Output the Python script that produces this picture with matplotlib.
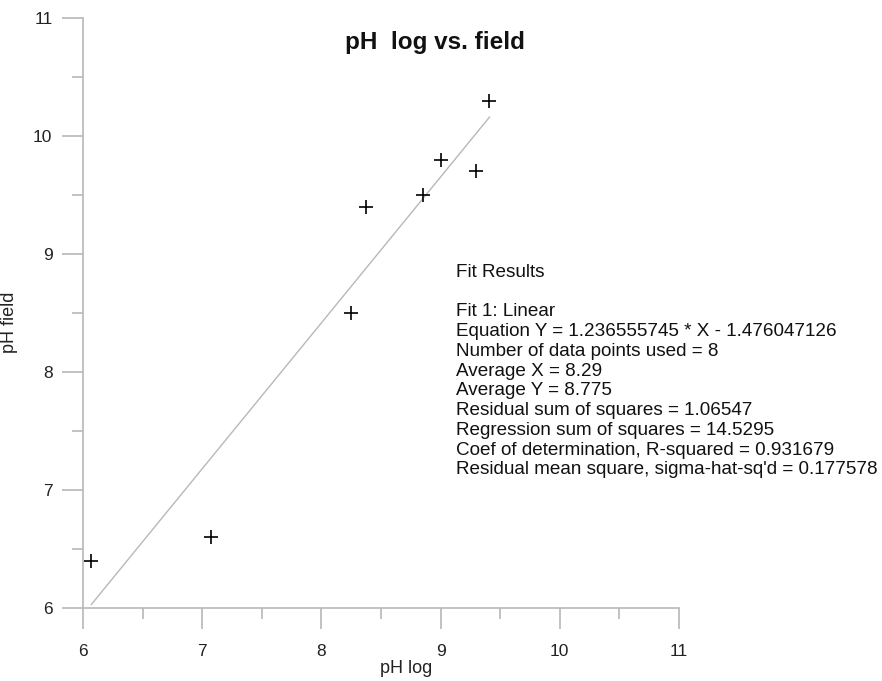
import matplotlib
matplotlib.use("Agg")
import matplotlib.pyplot as plt
import numpy as np
from matplotlib.ticker import MultipleLocator

plt.rcParams["font.family"] = ["Liberation Sans", "DejaVu Sans"]

# pH measured in the log vs. pH measured in the field
ph_log = [6.07, 7.07, 8.25, 8.37, 8.85, 9.00, 9.30, 9.41]
ph_field = [6.40, 6.60, 8.50, 9.40, 9.50, 9.80, 9.70, 10.30]

slope = 1.236555745
intercept = -1.476047126

fit_lines = [
    "Fit Results",
    "",
    "Fit 1: Linear",
    "Equation Y = 1.236555745 * X - 1.476047126",
    "Number of data points used = 8",
    "Average X = 8.29",
    "Average Y = 8.775",
    "Residual sum of squares = 1.06547",
    "Regression sum of squares = 14.5295",
    "Coef of determination, R-squared = 0.931679",
    "Residual mean square, sigma-hat-sq'd = 0.177578",
]

axis_grey = "#b8b8b8"

fig = plt.figure(figsize=(8.82, 6.81), dpi=100)
ax = fig.add_axes([83 / 882, 73 / 681, 596 / 882, 590 / 681])

x_fit = np.array([min(ph_log), max(ph_log)])
ax.plot(x_fit, slope * x_fit + intercept, color=axis_grey, linewidth=1.0)
ax.plot(ph_log, ph_field, linestyle="none", marker="+", markersize=10,
        markeredgewidth=1.2, color="black")

ax.set_xlim(6, 11)
ax.set_ylim(6, 11)
ax.xaxis.set_major_locator(MultipleLocator(1))
ax.xaxis.set_minor_locator(MultipleLocator(0.5))
ax.yaxis.set_major_locator(MultipleLocator(1))
ax.yaxis.set_minor_locator(MultipleLocator(0.5))

for side in ("top", "right"):
    ax.spines[side].set_visible(False)
for side in ("left", "bottom"):
    ax.spines[side].set_color(axis_grey)
    ax.spines[side].set_linewidth(1.2)

ax.tick_params(which="major", direction="out", length=15, width=1.2,
               color=axis_grey, labelsize=12.5, labelcolor="#222222")
ax.tick_params(axis="x", which="major", pad=11)
ax.tick_params(axis="y", which="major", pad=7)
ax.tick_params(which="minor", direction="out", length=8, width=1.2,
               color=axis_grey)

ax.set_xlabel("pH log", fontsize=13, color="#222222")
ax.set_ylabel("pH field", fontsize=13, color="#222222")
ax.xaxis.set_label_coords(0.542, -0.088)
ax.yaxis.set_label_coords(-0.109, 0.485)

fig.text(435 / 882, 1 - 43 / 681, "pH  log vs. field", ha="center",
         va="center", fontsize=17.5, fontweight="bold", color="#111111")

fig.text(456 / 882, 1 - 264 / 681, "\n".join(fit_lines), ha="left",
         va="top", fontsize=13.6, linespacing=1.21, color="#111111")

fig.savefig("out.png", dpi=100)
